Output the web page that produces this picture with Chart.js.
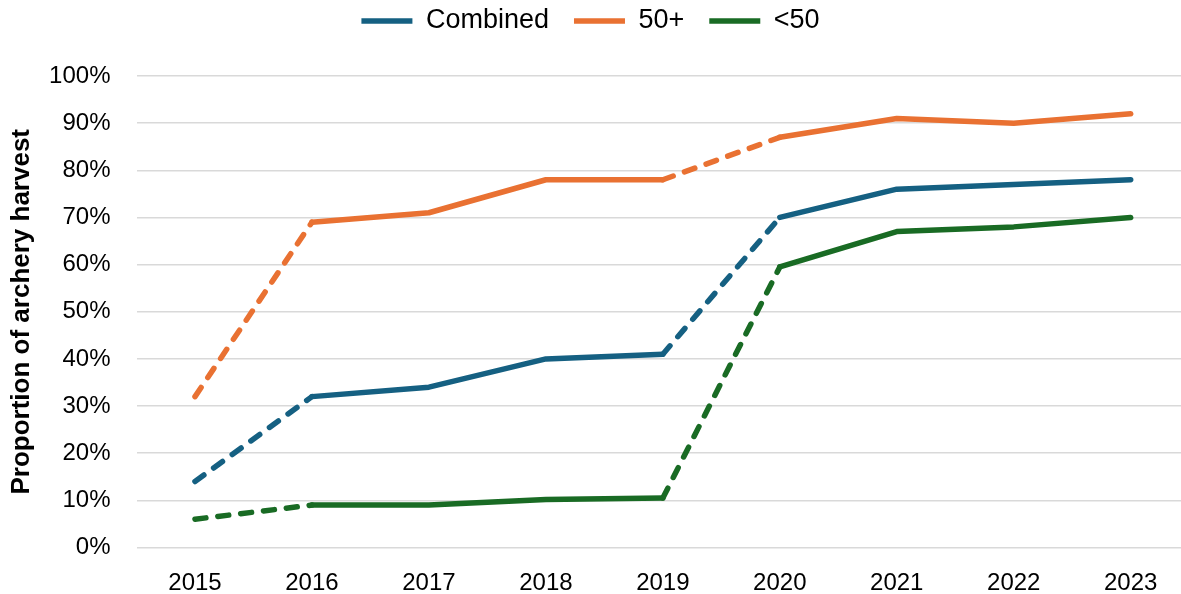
<!DOCTYPE html>
<html>
<head>
<meta charset="utf-8">
<script src="https://cdn.jsdelivr.net/npm/chart.js@4/dist/chart.umd.min.js"></script>
<style>
  html, body { margin: 0; padding: 0; background: #fff; }
  #wrap { width: 1181px; height: 594px; overflow: hidden; }
</style>
</head>
<body>
<div id="wrap"><canvas id="chart" width="1181" height="594"></canvas></div>
<script>
const years = [2015, 2016, 2017, 2018, 2019, 2020, 2021, 2022, 2023];
const combined = [14, 32, 34, 40, 41, 70, 76, 77, 78];
const over50 = [32, 69, 71, 78, 78, 87, 91, 90, 92];
const under50 = [6, 9, 9, 10.2, 10.5, 59.5, 67, 68, 70];
const yTicks = [0, 10, 20, 30, 40, 50, 60, 70, 80, 90, 100];
// segments starting at these indexes are drawn dashed (2015-16, 2019-20)
const dashedFrom = [0, 4];

const FONT = "'Liberation Sans', Arial, sans-serif";

function series(label, values, color) {
  return {
    label: label,
    data: values.map((v, i) => ({ x: years[i], y: v })),
    borderColor: color,
    backgroundColor: color,
    borderWidth: 5.5,
    borderCapStyle: 'round',
    borderJoinStyle: 'round',
    pointRadius: 0,
    pointHoverRadius: 0,
    tension: 0,
    segment: {
      borderDash: ctx => dashedFrom.includes(ctx.p0DataIndex) ? [11, 12] : undefined
    }
  };
}

// make room under the legend so the plot starts lower
const legendSpace = {
  id: 'legendSpace',
  beforeInit(chart) {
    const fit = chart.legend.fit;
    chart.legend.fit = function () {
      fit.bind(chart.legend)();
      this.height = 93.5;
    };
  }
};

const ctx = document.getElementById("chart").getContext("2d");
let chart = new Chart(ctx, {
  type: 'line',
  data: {
    datasets: [
      series('Combined', combined, '#156082'),
      series('50+', over50, '#E97132'),
      series('<50', under50, '#196B24')
    ]
  },
  options: {
    responsive: false,
    animation: false,
    layout: { padding: { top: -17.5, left: 0, right: 0, bottom: 0 } },
    plugins: {
      tooltip: { enabled: false },
      legend: {
        position: 'top',
        align: 'center',
        labels: {
          usePointStyle: true,
          pointStyle: 'line',
          pointStyleWidth: 51,
          padding: 25,
          color: '#000',
          font: { family: FONT, size: 27 }
        }
      }
    },
    scales: {
      x: {
        type: 'linear',
        min: 2014.5,
        max: 2023.43,
        afterBuildTicks: scale => { scale.ticks = years.map(v => ({ value: v })); },
        afterFit: scale => { scale.height = 46.5; },
        grid: { display: false, drawTicks: false },
        border: { display: false },
        ticks: {
          padding: 21,
          color: '#000',
          font: { family: FONT, size: 24 },
          maxRotation: 0,
          autoSkip: false,
          callback: v => String(v)
        }
      },
      y: {
        min: 0,
        max: 100,
        afterBuildTicks: scale => { scale.ticks = yTicks.map(v => ({ value: v })); },
        afterFit: scale => { scale.width = 136.5; },
        grid: { color: '#d9d9d9', lineWidth: 1.5, drawTicks: false },
        border: { display: false },
        ticks: {
          padding: 26,
          color: '#000',
          font: { family: FONT, size: 24 },
          callback: v => v + '%'
        },
        title: {
          display: true,
          text: 'Proportion of archery harvest',
          color: '#000',
          padding: { top: 6.5, bottom: 0 },
          font: { family: FONT, size: 26, weight: 'bold' }
        }
      }
    }
  },
  plugins: [legendSpace]
});
</script>
</body>
</html>
